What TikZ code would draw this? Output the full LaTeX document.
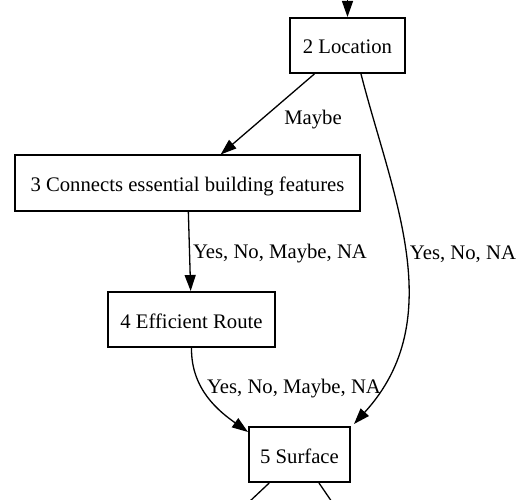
\documentclass[tikz,border=0pt]{standalone}
\usepackage{fontspec}
\setmainfont{Liberation Serif}
\usetikzlibrary{arrows.meta}
\begin{document}
\begin{tikzpicture}[x=1pt,y=1pt,
  box/.style={draw=black,line width=2pt,fill=white,inner sep=0pt,
    minimum height=55pt,text height=19pt,text depth=2pt,
    font=\fontsize{20.7}{24}\selectfont},
  edge/.style={line width=1.3pt,-{Triangle[length=16pt,width=11pt]}},
  plain/.style={line width=1.3pt},
  lbl/.style={inner sep=0pt,font=\fontsize{20.7}{24}\selectfont}]
\useasboundingbox (0,0) rectangle (522,-500);

% steps
\node[box,minimum width=115pt] (n2) at (347.5,-45.5) {2 Location};
\node[box,minimum width=345pt] (n3) at (187.5,-183) {3 Connects essential building features};
\node[box,minimum width=167pt] (n4) at (191.5,-319.5) {4 Efficient Route};
\node[box,minimum width=101pt] (n5) at (299.5,-454.5) {5 Surface};

% loose ends above and below
\coordinate (in2) at (347.5,2);
\coordinate (out1) at (249,-502);
\coordinate (out2) at (332,-502);

% connectors
\draw[edge] (in2) -- (n2);
\draw[edge] (n2) -- (n3);
\draw[edge] (n3) -- (n4);
\draw[edge] (n4.south) .. controls (191,-390) and (220,-412) .. ([yshift=-6pt]n5.north west);
\draw[edge] ([xshift=13.5pt]n2.south) .. controls (392,-195) and (450,-319) .. ([shift={(3pt,2pt)}]n5.north east);
\draw[plain] (n5) -- (out1);
\draw[plain] (n5) -- (out2);

% answer labels
\node[lbl] (l23) at (313,-120) {Maybe};
\node[lbl] (l34) at (280,-254) {Yes, No, Maybe, NA};
\node[lbl] (l25) at (463,-254) {Yes, No, NA};
\node[lbl] (l45) at (294,-389) {Yes, No, Maybe, NA};
\end{tikzpicture}
\end{document}
